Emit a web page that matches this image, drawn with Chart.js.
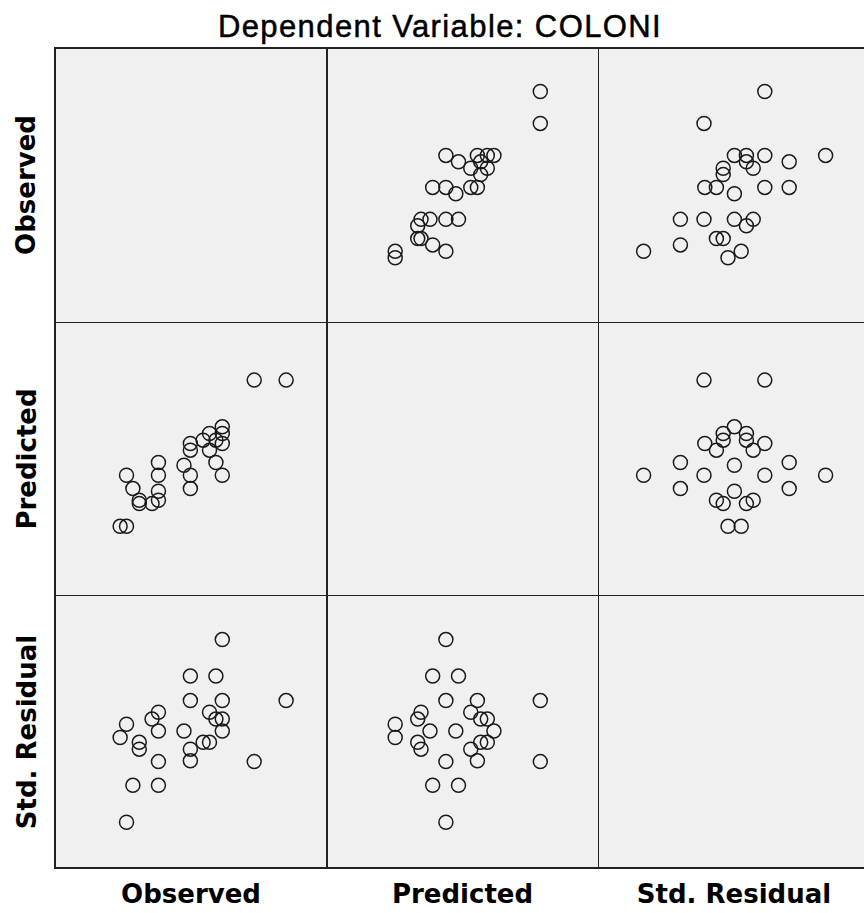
<!DOCTYPE html>
<html>
<head>
<meta charset="utf-8">
<script src="https://cdn.jsdelivr.net/npm/chart.js@4.4.1/dist/chart.umd.min.js"></script>
<style>
  html, body { margin: 0; padding: 0; background: #fff; }
  body { width: 864px; height: 913px; position: relative; overflow: hidden; }
  .cell { position: absolute; background: #f0f0f0; }
  .cell canvas { position: absolute; left: 0; top: 0; }
  .line { position: absolute; background: #222; }
  .title {
    position: absolute; left: 0; top: 11px; width: 880px; text-align: center;
    font-family: "Liberation Sans", Arial, sans-serif; font-size: 31px; line-height: 31px;
    letter-spacing: 1.4px; color: #000; -webkit-text-stroke: 0.5px #000;
  }
  .xlab, .ylab {
    position: absolute; text-align: center; white-space: nowrap;
    font-family: "DejaVu Sans", Verdana, sans-serif; font-weight: bold;
    font-size: 26px; line-height: 26px; height: 26px; color: #000;
  }
</style>
</head>
<body>
<div class="title">Dependent Variable: COLONI</div>
<div id="matrix"></div>
<script>
// variable names, in matrix order
const variables = ["Observed", "Predicted", "Std. Residual"];

// values (one entry per case)
const observed = [30, 25, 20, 15, 10, 5, 15, 6, 19, 10, 20, 15, 5, 4, 9, 7, 10, 7, 10, 14, 18, 15, 19, 17, 20, 18, 20];
const predicted = [27.33, 27.33, 12.49, 12.49, 12.49, 12.49, 10.41, 10.41, 14.47, 14.47, 17.44, 17.44, 4.52, 4.52,
  8.06, 8.06, 8.58, 8.58, 9.99, 14.05, 16.40, 16.40, 17.96, 17.96, 19.00, 19.00, 20.04];
const stdResidual = [0.76, -0.76, 2.28, 0.76, -0.76, -2.27, 1.37, -1.35, 1.37, -1.35, 0.76, -0.74, 0.17, -0.16,
  0.30, -0.28, 0.47, -0.45, 0.00, 0.00, 0.47, -0.45, 0.30, -0.28, 0.30, -0.28, 0.00];

const series = [observed, predicted, stdResidual];
// axis extent of each variable (no ticks shown in the original)
const xRanges = [[-6.2, 36.4], [-6.2, 36.4], [-3.41, 3.39]];
const yRanges = [[-6.05, 36.8], [-6.2, 36.4], [-3.41, 3.39]];

// cell geometry
const colEdges = [55, 327, 598, 870];
const rowEdges = [48, 322, 595, 868];

const matrix = document.getElementById("matrix");

for (let r = 0; r < 3; r++) {
  for (let c = 0; c < 3; c++) {
    const cell = document.createElement("div");
    cell.className = "cell";
    const w = colEdges[c + 1] - colEdges[c];
    const h = rowEdges[r + 1] - rowEdges[r];
    cell.style.left = colEdges[c] + "px";
    cell.style.top = rowEdges[r] + "px";
    cell.style.width = w + "px";
    cell.style.height = h + "px";
    matrix.appendChild(cell);
    if (r === c) continue; // diagonal cells stay empty

    const canvas = document.createElement("canvas");
    canvas.width = w;
    canvas.height = h;
    cell.appendChild(canvas);

    const xs = series[c];
    const ys = series[r];
    new Chart(canvas.getContext("2d"), {
      type: "scatter",
      data: {
        datasets: [{
          data: xs.map((x, i) => ({ x: x, y: ys[i] })),
          pointRadius: 7,
          pointHoverRadius: 7,
          pointBorderWidth: 1.5,
          borderColor: "#1a1a1a",
          backgroundColor: "rgba(0,0,0,0)",
        }],
      },
      options: {
        responsive: false,
        animation: false,
        events: [],
        layout: { padding: 0, autoPadding: false },
        plugins: { legend: { display: false }, tooltip: { enabled: false } },
        scales: {
          x: { type: "linear", min: xRanges[c][0], max: xRanges[c][1], display: false },
          y: { type: "linear", min: yRanges[r][0], max: yRanges[r][1], display: false },
        },
      },
    });
  }
}

// grid lines
function addLine(x, y, w, h) {
  const d = document.createElement("div");
  d.className = "line";
  d.style.left = x + "px";
  d.style.top = y + "px";
  d.style.width = w + "px";
  d.style.height = h + "px";
  matrix.appendChild(d);
}
addLine(54, 47, 818, 2);   // top
addLine(54, 867, 818, 2);  // bottom
addLine(54, 47, 2, 822);   // left
addLine(868, 47, 2, 822);  // right (off screen)
addLine(326, 48, 1.5, 820);
addLine(597.5, 48, 1.5, 820);
addLine(55, 321.5, 815, 1.5);
addLine(55, 594.5, 815, 1.5);

// axis labels
variables.forEach((name, i) => {
  const xl = document.createElement("div");
  xl.className = "xlab";
  xl.textContent = name;
  const cw = colEdges[i + 1] - colEdges[i];
  xl.style.left = colEdges[i] + "px";
  xl.style.width = cw + "px";
  xl.style.top = "881px";
  matrix.appendChild(xl);

  const yl = document.createElement("div");
  yl.className = "ylab";
  yl.textContent = name;
  const rh = rowEdges[i + 1] - rowEdges[i];
  const cy = (rowEdges[i] + rowEdges[i + 1]) / 2;
  yl.style.width = rh + "px";
  yl.style.left = (26 - rh / 2) + "px";
  yl.style.top = (cy - 13) + "px";
  yl.style.transform = "rotate(-90deg)";
  matrix.appendChild(yl);
});
</script>
</body>
</html>
